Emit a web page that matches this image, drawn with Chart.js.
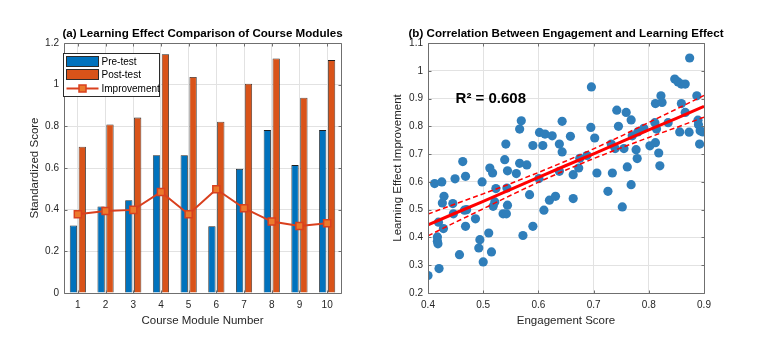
<!DOCTYPE html>
<html>
<head>
<meta charset="utf-8">
<script src="https://cdn.jsdelivr.net/npm/chart.js@4.4.0/dist/chart.umd.min.js"></script>
<style>
  html, body { margin: 0; padding: 0; background: #fff; }
  #wrap { position: relative; width: 757px; height: 348px; }
  canvas { position: absolute; top: 0; }
  #chartA { left: 0; }
  #chartB { left: 380px; }
</style>
</head>
<body>
<div id="wrap">
  <canvas id="chartA" width="380" height="348"></canvas>
  <canvas id="chartB" width="377" height="348"></canvas>
</div>
<script>
// (a) module scores
var modules = ['1', '2', '3', '4', '5', '6', '7', '8', '9', '10'];
var preTest = [0.324, 0.415, 0.445, 0.661, 0.661, 0.321, 0.596, 0.782, 0.614, 0.782];
var postTest = [0.702, 0.809, 0.842, 1.146, 1.037, 0.822, 1.005, 1.126, 0.937, 1.118];
var improvement = [0.378, 0.394, 0.399, 0.485, 0.378, 0.498, 0.407, 0.343, 0.322, 0.335];

// (b) engagement vs improvement
var engagement = [
  0.463, 0.512, 0.544, 0.541, 0.539, 0.569, 0.566, 0.566, 0.579, 0.590,
  0.602, 0.612, 0.608, 0.625, 0.638, 0.643, 0.643, 0.658, 0.675, 0.688,
  0.696, 0.695, 0.702, 0.732, 0.742, 0.745, 0.739, 0.759, 0.768, 0.755,
  0.761, 0.770, 0.777, 0.780, 0.779, 0.791, 0.802, 0.811, 0.812, 0.814,
  0.818, 0.820, 0.812, 0.822, 0.824, 0.835, 0.847, 0.853, 0.859, 0.866,
  0.859, 0.866, 0.856, 0.874, 0.873, 0.887, 0.889, 0.890, 0.893, 0.898,
  0.892, 0.400, 0.412, 0.425, 0.429, 0.426, 0.445, 0.449, 0.446, 0.419,
  0.428, 0.417, 0.417, 0.418, 0.420, 0.457, 0.468, 0.466, 0.470, 0.468,
  0.486, 0.494, 0.492, 0.498, 0.500, 0.510, 0.515, 0.517, 0.523, 0.521,
  0.518, 0.536, 0.542, 0.544, 0.543, 0.560, 0.584, 0.572, 0.590, 0.601,
  0.610, 0.620, 0.631, 0.638, 0.663, 0.663, 0.673, 0.706, 0.726, 0.734,
  0.768, 0.752
];
var learningGain = [
  0.673, 0.650, 0.640, 0.736, 0.680, 0.820, 0.790, 0.667, 0.661, 0.731,
  0.778, 0.772, 0.731, 0.766, 0.736, 0.708, 0.818, 0.764, 0.685, 0.695,
  0.942, 0.796, 0.758, 0.736, 0.858, 0.800, 0.720, 0.850, 0.823, 0.720,
  0.654, 0.766, 0.716, 0.780, 0.684, 0.793, 0.730, 0.813, 0.741, 0.790,
  0.704, 0.658, 0.882, 0.910, 0.886, 0.813, 0.970, 0.960, 0.952, 0.952,
  0.882, 0.850, 0.780, 1.046, 0.779, 0.910, 0.822, 0.806, 0.784, 0.780,
  0.736, 0.263, 0.594, 0.600, 0.548, 0.524, 0.522, 0.611, 0.485, 0.455,
  0.432, 0.402, 0.386, 0.377, 0.288, 0.338, 0.620, 0.498, 0.500, 0.440,
  0.467, 0.392, 0.362, 0.600, 0.312, 0.416, 0.348, 0.632, 0.576, 0.528,
  0.512, 0.485, 0.485, 0.516, 0.578, 0.630, 0.554, 0.407, 0.440, 0.612,
  0.498, 0.534, 0.548, 0.638, 0.626, 0.540, 0.650, 0.632, 0.566, 0.632,
  0.590, 0.510
];

// fitted line and confidence band
var fitX = [0.40, 0.45, 0.50, 0.55, 0.60, 0.65, 0.70, 0.75, 0.80, 0.85, 0.90];
var fitY = [0.445, 0.488, 0.530, 0.573, 0.616, 0.659, 0.701, 0.744, 0.787, 0.829, 0.872];
var ciUpper = [0.484, 0.521, 0.557, 0.594, 0.634, 0.675, 0.719, 0.765, 0.814, 0.862, 0.911];
var ciLower = [0.406, 0.455, 0.503, 0.552, 0.599, 0.643, 0.684, 0.723, 0.760, 0.796, 0.833];
var r2Label = 'R\u00B2 = 0.608';

var titleA = '(a) Learning Effect Comparison of Course Modules';
var titleB = '(b) Correlation Between Engagement and Learning Effect';

Chart.defaults.font.family = '"Liberation Sans", Arial, Helvetica, sans-serif';
Chart.defaults.color = '#262626';

var tickFont = { size: 10 };
var labelFont = { size: 11.5 };
var gridColor = '#e2e2e2';

function fmt(v) { return String(Math.round(v * 10) / 10); }

function pairs(xs, ys) {
  return xs.map(function (x, i) { return { x: x, y: ys[i] }; });
}

// matlab style box with inward ticks
var axesBox = {
  id: 'axesBox',
  afterDatasetsDraw: function (chart) {
    var ctx = chart.ctx, a = chart.chartArea;
    var xs = chart.scales.x, ys = chart.scales.y;
    var l = Math.round(a.left) + 0.5, r = Math.round(a.right) + 0.5;
    var t = Math.round(a.top) + 0.5, b = Math.round(a.bottom) + 0.5;
    ctx.save();
    ctx.strokeStyle = '#6f6f6f';
    ctx.lineWidth = 1;
    ctx.beginPath();
    ctx.rect(l, t, r - l, b - t);
    xs.ticks.forEach(function (tk, i) {
      var p = Math.round(xs.getPixelForTick(i)) + 0.5;
      ctx.moveTo(p, b); ctx.lineTo(p, b - 3);
      ctx.moveTo(p, t); ctx.lineTo(p, t + 3);
    });
    ys.ticks.forEach(function (tk, i) {
      var p = Math.round(ys.getPixelForTick(i)) + 0.5;
      ctx.moveTo(l, p); ctx.lineTo(l + 3, p);
      ctx.moveTo(r, p); ctx.lineTo(r - 3, p);
    });
    ctx.stroke();
    ctx.restore();
  }
};

// title centred over the plot area
var panelTitle = {
  id: 'panelTitle',
  afterDraw: function (chart, args, opts) {
    var ctx = chart.ctx, a = chart.chartArea;
    ctx.save();
    ctx.font = 'bold 11.6px "Liberation Sans", Arial, sans-serif';
    ctx.fillStyle = '#000';
    ctx.textAlign = 'center';
    ctx.textBaseline = 'middle';
    ctx.fillText(opts.text, (a.left + a.right) / 2, a.top - 9.5);
    ctx.restore();
  }
};

var legendBox = {
  id: 'legendBox',
  afterDraw: function (chart) {
    var ctx = chart.ctx, a = chart.chartArea;
    var ds = chart.data.datasets;
    var x = Math.round(a.left) - 0.5, y = Math.round(a.top) + 10.5, w = 96, h = 43;
    var rows = [y + 8, y + 21, y + 35];
    ctx.save();
    ctx.fillStyle = '#fff';
    ctx.fillRect(x, y, w, h);
    ctx.strokeStyle = '#2b2b2b';
    ctx.lineWidth = 1;
    ctx.strokeRect(x, y, w, h);
    ctx.font = '10px "Liberation Sans", Arial, sans-serif';
    ctx.textBaseline = 'middle';
    ds.forEach(function (d, i) {
      var cy = rows[i];
      if (d.type === 'line') {
        ctx.strokeStyle = d.borderColor;
        ctx.lineWidth = 2;
        ctx.beginPath(); ctx.moveTo(x + 3, cy); ctx.lineTo(x + 35, cy); ctx.stroke();
        ctx.fillStyle = d.pointBackgroundColor;
        ctx.fillRect(x + 15.5, cy - 3.5, 7, 7);
        ctx.lineWidth = 1.5;
        ctx.strokeStyle = d.pointBorderColor;
        ctx.strokeRect(x + 15.5, cy - 3.5, 7, 7);
      } else {
        ctx.fillStyle = d.backgroundColor;
        ctx.fillRect(x + 3, cy - 5, 32, 10);
        ctx.strokeStyle = '#2b2b2b';
        ctx.lineWidth = 1;
        ctx.strokeRect(x + 3, cy - 5, 32, 10);
      }
      ctx.fillStyle = '#000';
      ctx.fillText(d.label, x + 38, cy + 0.5);
    });
    ctx.restore();
  }
};

var r2Text = {
  id: 'r2Text',
  afterDatasetsDraw: function (chart) {
    var ctx = chart.ctx;
    ctx.save();
    ctx.font = 'bold 15px "Liberation Sans", Arial, sans-serif';
    ctx.fillStyle = '#000';
    ctx.textBaseline = 'middle';
    ctx.textAlign = 'left';
    ctx.fillText(r2Label, chart.scales.x.getPixelForValue(0.45), chart.scales.y.getPixelForValue(0.9));
    ctx.restore();
  }
};

new Chart(document.getElementById('chartA'), {
  type: 'bar',
  data: {
    labels: modules,
    datasets: [
      { label: 'Pre-test', data: preTest, backgroundColor: '#0072BD', borderColor: '#1f1f1f', borderWidth: 0.8, order: 2 },
      { label: 'Post-test', data: postTest, backgroundColor: '#D95319', borderColor: '#1f1f1f', borderWidth: 0.8, order: 2 },
      { type: 'line', label: 'Improvement', data: improvement, borderColor: '#D9401E', borderWidth: 2,
        pointStyle: 'rect', pointRadius: 5, pointBackgroundColor: '#EC7A2C', pointBorderColor: '#D9401E',
        pointBorderWidth: 1.5, tension: 0, order: 0 }
    ]
  },
  options: {
    responsive: false,
    animation: false,
    categoryPercentage: 0.64,
    barPercentage: 0.82,
    layout: { padding: { left: 0, right: 39, top: 43, bottom: 0 } },
    plugins: {
      legend: { display: false },
      tooltip: { enabled: false },
      title: { display: false },
      panelTitle: { text: titleA }
    },
    scales: {
      x: {
        grid: { color: gridColor, drawTicks: false, offset: false },
        border: { display: false },
        ticks: { font: tickFont, padding: 6, maxRotation: 0 },
        title: { display: true, text: 'Course Module Number', font: labelFont, padding: { top: 0, bottom: 20 } },
        afterFit: function (s) { s.height = 55; }
      },
      y: {
        min: 0, max: 1.2,
        grid: { color: gridColor, drawTicks: false },
        border: { display: false },
        ticks: { stepSize: 0.2, font: tickFont, padding: 5, callback: fmt },
        title: { display: true, text: 'Standardized Score', font: labelFont, padding: { top: 28, bottom: 0 } },
        afterFit: function (s) { s.width = 64; }
      }
    }
  },
  plugins: [axesBox, panelTitle, legendBox]
});

new Chart(document.getElementById('chartB'), {
  type: 'scatter',
  data: {
    datasets: [
      { label: 'Data', data: pairs(engagement, learningGain), backgroundColor: '#2F7EBA',
        pointRadius: 4.6, borderWidth: 0, order: 3 },
      { label: 'Fit', data: pairs(fitX, fitY), showLine: true, borderColor: '#FF0000', borderWidth: 3,
        pointRadius: 0, order: 1 },
      { label: 'CI upper', data: pairs(fitX, ciUpper), showLine: true, borderColor: '#FF0000', borderWidth: 1.5,
        borderDash: [5, 3], pointRadius: 0, order: 2 },
      { label: 'CI lower', data: pairs(fitX, ciLower), showLine: true, borderColor: '#FF0000', borderWidth: 1.5,
        borderDash: [5, 3], pointRadius: 0, order: 2 }
    ]
  },
  options: {
    responsive: false,
    animation: false,
    layout: { padding: { left: 0, right: 53, top: 43, bottom: 0 } },
    plugins: {
      legend: { display: false },
      tooltip: { enabled: false },
      title: { display: false },
      panelTitle: { text: titleB }
    },
    scales: {
      x: {
        type: 'linear', min: 0.4, max: 0.9,
        grid: { color: gridColor, drawTicks: false },
        border: { display: false },
        ticks: { stepSize: 0.1, font: tickFont, padding: 6, callback: fmt },
        title: { display: true, text: 'Engagement Score', font: labelFont, padding: { top: 0, bottom: 20 } },
        afterFit: function (s) { s.height = 55; }
      },
      y: {
        min: 0.2, max: 1.1,
        grid: { color: gridColor, drawTicks: false },
        border: { display: false },
        ticks: { stepSize: 0.1, font: tickFont, padding: 5, callback: fmt },
        title: { display: true, text: 'Learning Effect Improvement', font: labelFont, padding: { top: 11, bottom: 0 } },
        afterFit: function (s) { s.width = 48; }
      }
    }
  },
  plugins: [axesBox, panelTitle, r2Text]
});
</script>
</body>
</html>
